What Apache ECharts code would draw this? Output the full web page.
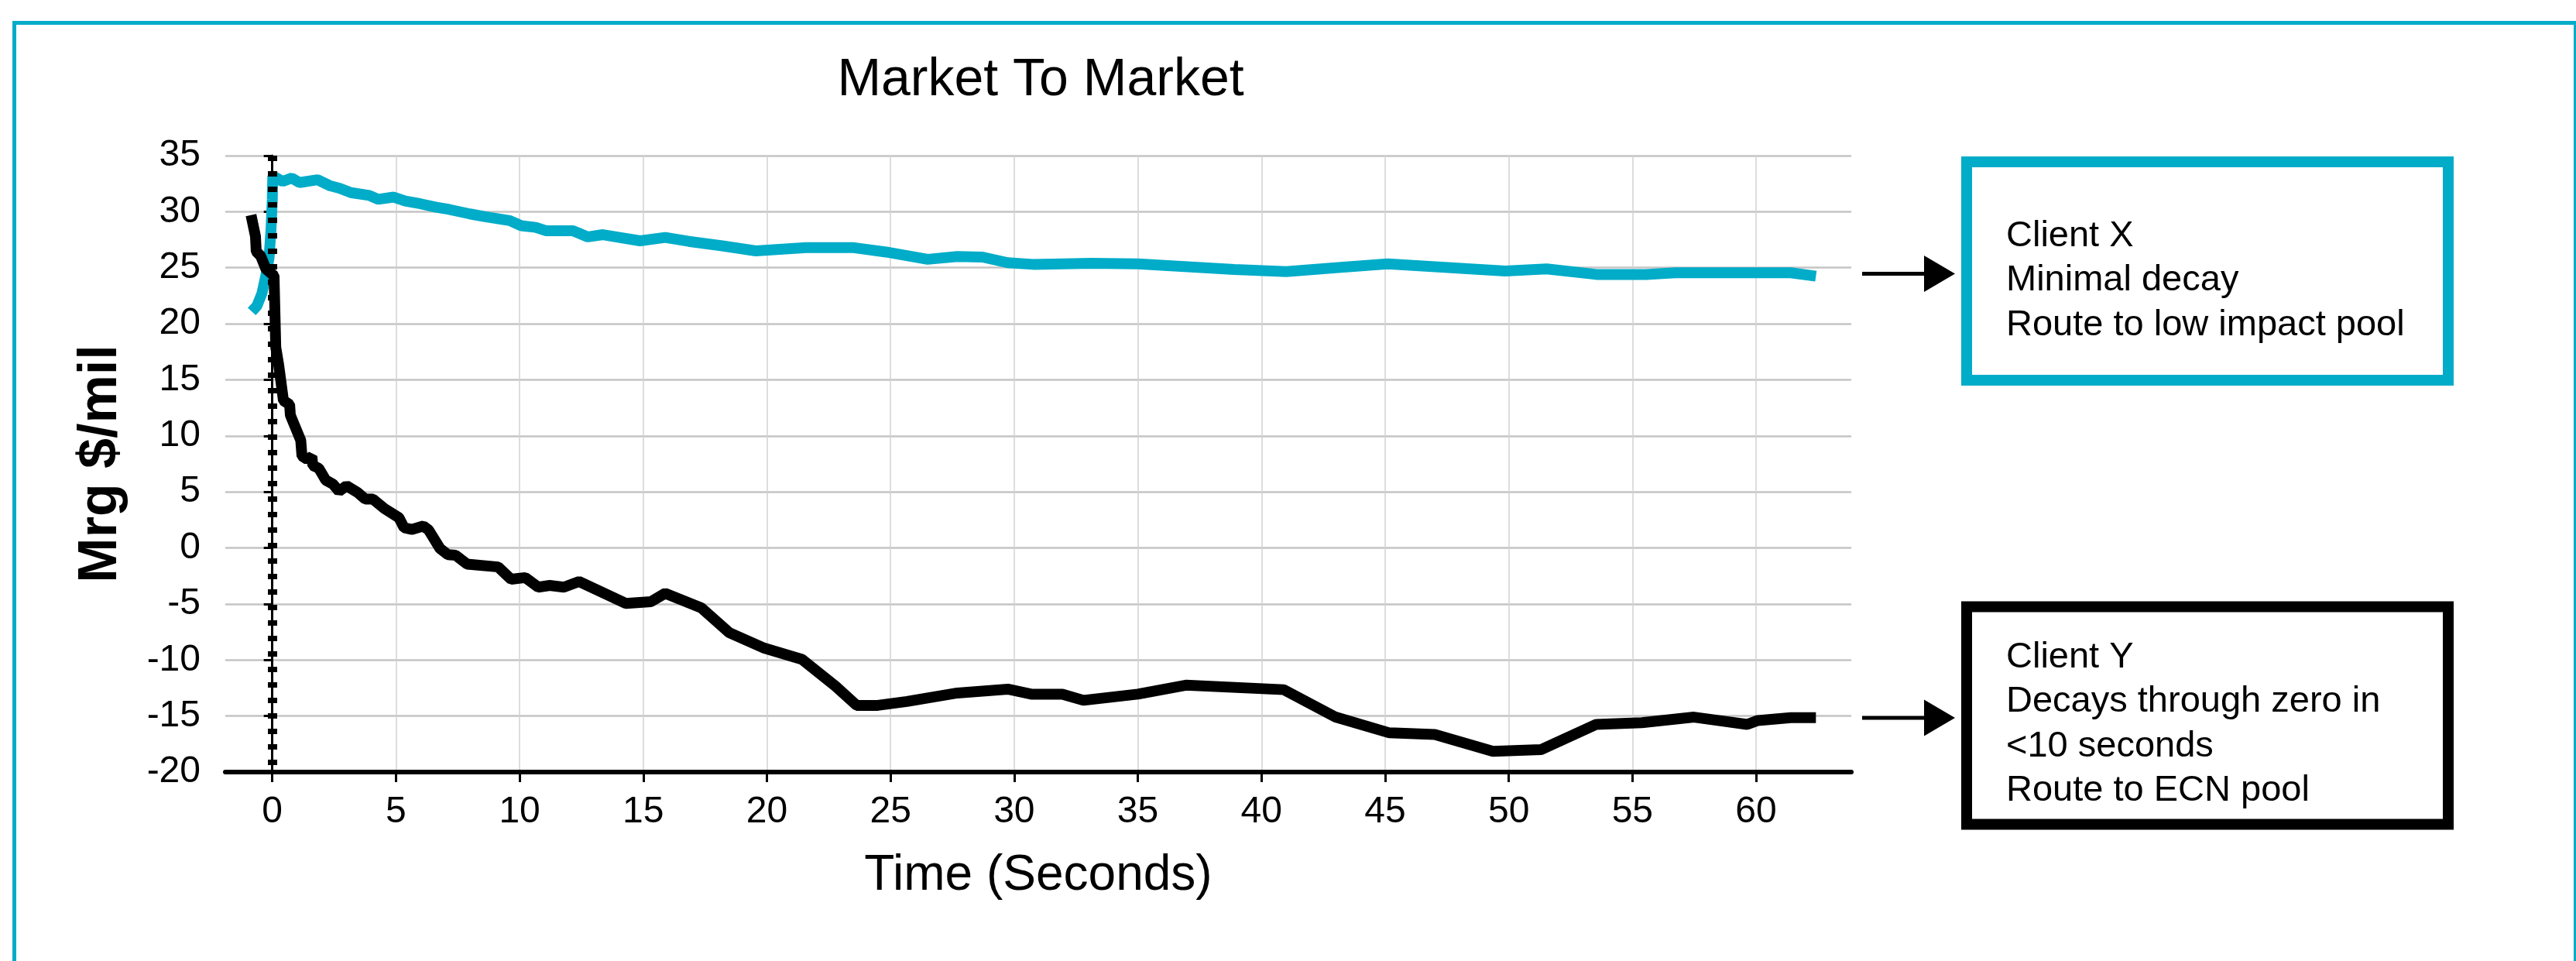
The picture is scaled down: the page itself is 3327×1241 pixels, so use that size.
<!DOCTYPE html>
<html>
<head>
<meta charset="utf-8">
<script src="https://cdn.jsdelivr.net/npm/echarts@6/dist/echarts.min.js"></script>
<style>
  html, body { margin: 0; padding: 0; background: #fff; }
  #chart { width: 3327px; height: 1241px; }
</style>
</head>
<body>
<div id="chart"></div>
<script>
// Client X (teal) - time in seconds / margin $/mil
var xClientX = [-0.83, -0.62, -0.42, -0.26, -0.13, -0.05, 0.0, 0.02, 0.42, 0.79, 1.10, 1.83, 2.35, 2.71, 3.18,
    3.92, 4.28, 4.91, 5.38, 6.0, 6.63, 7.15, 7.99, 8.61, 9.6, 10.07, 10.65, 11.06, 12.16, 12.76, 13.37, 14.87,
    15.89, 16.84, 18.2, 19.55, 21.59, 23.46, 24.82, 26.5, 27.7, 28.72, 29.74, 30.76, 33.14, 35.0, 38.9, 41.0,
    43.0, 45.1, 49.86, 51.53, 53.54, 55.55, 56.72, 61.4, 62.42];
var yClientX = [21.1, 21.6, 22.7, 24.3, 25.9, 28.5, 31.1, 33.2, 32.7, 33.0, 32.6, 32.85, 32.3, 32.1, 31.7,
    31.45, 31.1, 31.3, 30.95, 30.7, 30.4, 30.2, 29.8, 29.55, 29.2, 28.75, 28.6, 28.3, 28.3, 27.75, 27.95, 27.4,
    27.7, 27.35, 26.95, 26.5, 26.8, 26.8, 26.4, 25.75, 26.0, 25.95, 25.45, 25.3, 25.4, 25.35, 24.85, 24.65,
    25.0, 25.35, 24.7, 24.9, 24.4, 24.4, 24.55, 24.55, 24.25];

// Client Y (black)
var xClientY = [-0.86, -0.68, -0.65, -0.47, -0.26, -0.05, 0.07, 0.14, 0.26, 0.45, 0.70, 0.73, 1.15, 1.2, 1.41,
    1.6, 1.64, 1.88, 2.16, 2.45, 2.7, 3.0, 3.45, 3.76, 4.07, 4.54, 5.12, 5.33, 5.64, 6.11, 6.32, 6.78, 7.1,
    7.41, 7.88, 9.13, 9.66, 10.23, 10.75, 11.22, 11.79, 12.4, 14.29, 15.31, 15.89, 17.35, 18.47, 19.9, 21.42,
    22.78, 23.63, 24.48, 25.66, 27.7, 29.74, 30.69, 31.95, 32.8, 35.0, 36.94, 40.9, 43.0, 45.17, 47.01, 49.36,
    51.3, 53.54, 55.38, 57.49, 59.64, 60.07, 61.41, 62.42];
var yClientY = [29.7, 27.8, 26.45, 26.05, 24.9, 24.5, 24.3, 17.9, 16.3, 13.15, 12.8, 11.85, 9.6, 8.2, 7.9,
    8.15, 7.35, 7.1, 6.05, 5.7, 5.05, 5.55, 4.95, 4.35, 4.35, 3.5, 2.7, 1.8, 1.65, 1.95, 1.6, -0.05, -0.6,
    -0.65, -1.45, -1.7, -2.8, -2.65, -3.5, -3.35, -3.5, -3.0, -4.95, -4.8, -4.05, -5.35, -7.55, -8.95, -9.95,
    -12.35, -14.05, -14.05, -13.7, -12.95, -12.6, -13.05, -13.05, -13.6, -13.05, -12.25, -12.65, -15.1, -16.5, -16.65, -18.15,
    -18.0, -15.75, -15.6, -15.1, -15.75, -15.4, -15.15, -15.15];

var xTicks = [0, 5, 10, 15, 20, 25, 30, 35, 40, 45, 50, 55, 60];
var chartTitle = 'Market To Market';
var xName = 'Time (Seconds)';
var yName = 'Mrg $/mil';
var noteX = ['Client X', 'Minimal decay', 'Route to low impact pool'];
var noteY = ['Client Y', 'Decays through zero in', '<10 seconds', 'Route to ECN pool'];

var TEAL = '#00ACC8';
var FONT = '"Liberation Sans", Arial, sans-serif';

function pairs(xs, ys) {
    var out = [];
    for (var i = 0; i < xs.length; i++) out.push([xs[i], ys[i]]);
    return out;
}

// arrow pointing at a note box, drawn as one filled shape
function arrow(y) {
    return {
        type: 'polygon',
        shape: { points: [[2405, y - 2.5], [2485, y - 2.5], [2485, y - 23.5], [2525, y],
            [2485, y + 23.5], [2485, y + 2.5], [2405, y + 2.5]] },
        style: { fill: '#000' }
    };
}

function bar(x, y, w, h, color) {
    return { type: 'rect', shape: { x: x, y: y, width: w, height: h }, style: { fill: color } };
}

var chart = echarts.init(document.getElementById('chart'));

var graphics = [
    // outer frame, open at the bottom
    bar(16, 27, 5, 1214, TEAL),
    bar(16, 27, 3311, 5, TEAL),
    bar(3324, 27, 3, 1214, TEAL),
    { type: 'text', style: { text: chartTitle, x: 1344, y: 70, align: 'center', verticalAlign: 'top',
      fontSize: 68, fontFamily: FONT, fill: '#000' } },
    // Client X box
    { type: 'rect', shape: { x: 2540, y: 209, width: 622, height: 282 },
      style: { fill: '#fff', stroke: TEAL, lineWidth: 14 } },
    { type: 'text', style: { text: noteX.join('\n'), x: 2591, y: 276, verticalAlign: 'top',
      fontSize: 47, lineHeight: 57.5, fontFamily: FONT, fill: '#000' } },
    // Client Y box
    { type: 'rect', shape: { x: 2540, y: 783.5, width: 622, height: 281 },
      style: { fill: '#fff', stroke: '#000', lineWidth: 14 } },
    { type: 'text', style: { text: noteY.join('\n'), x: 2591, y: 820, verticalAlign: 'top',
      fontSize: 47, lineHeight: 57.5, fontFamily: FONT, fill: '#000' } },
    arrow(353.6),
    arrow(927)
];

var option = {
    animation: false,
    backgroundColor: '#fff',
    grid: { left: 291, right: 936, top: 201, bottom: 244 },
    xAxis: {
        type: 'value',
        min: -1.9,
        max: 63.85,
        name: xName,
        nameLocation: 'middle',
        nameGap: 102,
        nameTextStyle: { fontSize: 64, fontFamily: FONT, color: '#000' },
        axisLine: { show: true, onZero: false, lineStyle: { color: '#000', width: 6 } },
        axisTick: { show: true, length: 13, customValues: xTicks, lineStyle: { color: '#000', width: 3 } },
        axisLabel: { customValues: xTicks, margin: 28, fontSize: 48, fontFamily: FONT, color: '#000' },
        splitLine: { show: true, lineStyle: { color: '#d2d2d2', width: 1.5 } }
    },
    yAxis: {
        type: 'value',
        min: -20,
        max: 35,
        interval: 5,
        name: yName,
        nameLocation: 'middle',
        nameGap: 125,
        nameTextStyle: { fontSize: 70, fontWeight: 'bold', fontFamily: FONT, color: '#000' },
        axisLine: { show: true, lineStyle: { color: '#000', width: 3 } },
        axisTick: { show: true, length: 11, lineStyle: { color: '#000', width: 3 } },
        axisLabel: { margin: 32, fontSize: 48, fontFamily: FONT, color: '#000' },
        splitLine: { show: true, lineStyle: { color: '#c4c4c4', width: 2.5 } }
    },
    series: [{
        type: 'line',
        data: pairs(xClientX, yClientX),
        showSymbol: false,
        lineStyle: { color: TEAL, width: 14 }
    }, {
        type: 'line',
        data: pairs(xClientY, yClientY),
        showSymbol: false,
        lineStyle: { color: '#000', width: 14 },
        markLine: {
            symbol: 'none',
            label: { show: false },
            lineStyle: { color: '#000', width: 12, type: [7, 13] },
            data: [[{ coord: [0, 35] }, { coord: [0, -20] }]]
        }
    }],
    graphic: graphics
};

chart.setOption(option);
</script>
</body>
</html>
